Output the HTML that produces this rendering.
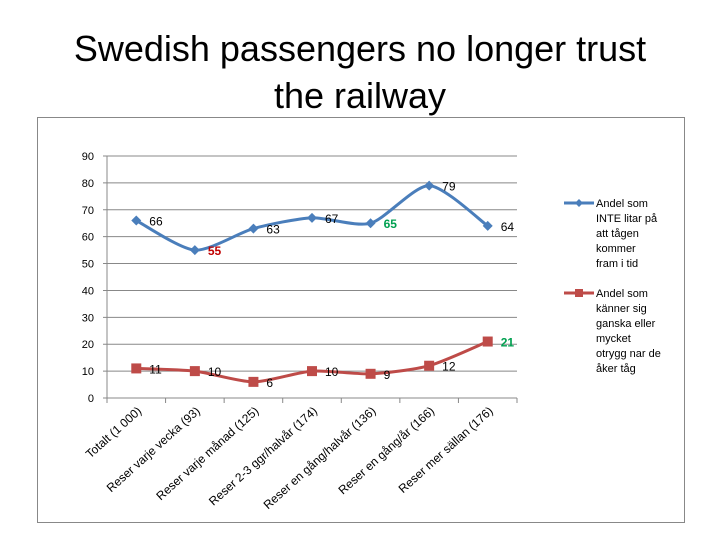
<!DOCTYPE html>
<html><head><meta charset="utf-8"><style>
body{margin:0;background:#fff;width:720px;height:540px;overflow:hidden;font-family:"Liberation Sans",sans-serif}
h1{position:absolute;left:0;top:25px;width:720px;margin:0;text-align:center;font-weight:normal;font-size:36px;line-height:47px;color:#000}
</style></head><body>
<h1>Swedish passengers no longer trust<br>the railway</h1>
<svg id="c" width="720" height="540" style="position:absolute;left:0;top:0"></svg>
<script>
const categories=["Totalt (1 000)","Reser varje vecka (93)","Reser varje månad (125)","Reser 2-3 ggr/halvår (174)","Reser en gång/halvår (136)","Reser en gång/år (166)","Reser mer sällan (176)"];
const seriesA=[66,55,63,67,65,79,64];
const seriesB=[11,10,6,10,9,12,21];
const yTicks=[0,10,20,30,40,50,60,70,80,90];
const labelColorsA=["#000","#c00000","#000","#000","#00a050","#000","#000"];
const labelColorsB=["#000","#000","#000","#000","#000","#000","#00a050"];
const NS="http://www.w3.org/2000/svg";
const svg=document.getElementById('c');
function mk(t,a,p){const e=document.createElementNS(NS,t);for(const k in a)e.setAttribute(k,a[k]);(p||svg).appendChild(e);return e;}
const x0=107,x1=517,yb=398,yt=156;
const y=v=>yb-(v/90)*(yb-yt);
const x=i=>x0+(i+0.5)*(x1-x0)/categories.length;
let fr=mk('rect',{x:37.5,y:117.5,width:647,height:405,fill:'none',stroke:'#888'});

yTicks.forEach(t=>{
  if(t>0){let g=mk('line',{x1:x0-4,x2:x1,y1:y(t),y2:y(t),stroke:'#888','stroke-width':1});
  }
  let l=mk('text',{x:94,y:y(t)+4,'text-anchor':'end','font-size':11,fill:'#000'});l.textContent=t;
  
});
let ax=mk('line',{x1:x0-4,x2:x1,y1:yb,y2:yb,stroke:'#888'});

let ay=mk('line',{x1:x0,x2:x0,y1:yt,y2:yb,stroke:'#888'});

for(let i=0;i<=categories.length;i++){const xx=x0+i*(x1-x0)/categories.length;mk('line',{x1:xx,x2:xx,y1:yb,y2:yb+5,stroke:'#888'});}
categories.forEach((c,i)=>{
  let t=mk('text',{x:x(i)+6,y:yb+14,'text-anchor':'end','font-size':12,transform:`rotate(-42 ${x(i)+6} ${yb+14})`});
  t.textContent=c;
});
function smooth(vals){const p=vals.map((v,i)=>[x(i),y(v)]);let d=`M${p[0][0]},${p[0][1]}`;
  for(let i=0;i<p.length-1;i++){const a=p[i-1]||p[i],b=p[i],c=p[i+1],e=p[i+2]||c;
  d+=` C${b[0]+(c[0]-a[0])/8},${b[1]+(c[1]-a[1])/8} ${c[0]-(e[0]-b[0])/8},${c[1]-(e[1]-b[1])/8} ${c[0]},${c[1]}`;}return d;}
let la=mk('path',{d:smooth(seriesA),fill:'none',stroke:'#4a7ebb','stroke-width':3});

let lb=mk('path',{d:smooth(seriesB),fill:'none',stroke:'#be4b48','stroke-width':3});

seriesA.forEach((v,i)=>{
  let m=mk('path',{d:`M${x(i)},${y(v)-5} l5,5 l-5,5 l-5,-5z`,fill:'#4a7ebb'});
  
  let t=mk('text',{x:x(i)+13,y:y(v)+5,'font-size':12,fill:labelColorsA[i],'font-weight':labelColorsA[i]=='#000'?'normal':'bold'});t.textContent=v;
  
});
seriesB.forEach((v,i)=>{
  let m=mk('rect',{x:x(i)-5,y:y(v)-5,width:10,height:10,fill:'#be4b48'});
  
  let t=mk('text',{x:x(i)+13,y:y(v)+5,'font-size':12,fill:labelColorsB[i],'font-weight':labelColorsB[i]=='#000'?'normal':'bold'});t.textContent=v;
  
});
function legend(y0,color,shape,lines,name){
  let g=mk('g',{});
  mk('line',{x1:564,x2:594,y1:y0,y2:y0,stroke:color,'stroke-width':3},g);
  if(shape=='d')mk('path',{d:`M579,${y0-4} l4,4 l-4,4 l-4,-4z`,fill:color},g);else mk('rect',{x:575,y:y0-4,width:8,height:8,fill:color},g);
  lines.forEach((s,k)=>{let t=mk('text',{x:596,y:y0+4+k*15,'font-size':11},g);t.textContent=s;});
}
legend(203,'#4a7ebb','d',["Andel som","INTE litar på","att tågen","kommer","fram i tid"],'legend-not-trust');
legend(293,'#be4b48','s',["Andel som","känner sig","ganska eller","mycket","otrygg nar de","åker tåg"],'legend-unsafe');
</script>
</body></html>
